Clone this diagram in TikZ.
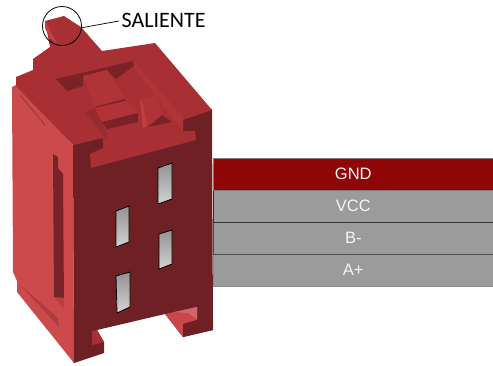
\documentclass[tikz,border=0pt]{standalone}
\usepackage{fontspec}
\setmainfont{Liberation Sans}
\newfontfamily\labelfont{Carlito}
\definecolor{topface}{HTML}{A83034}
\definecolor{topdark}{HTML}{7A2226}
\definecolor{topmid}{HTML}{B03337}
\definecolor{leftface}{HTML}{CC4A4C}
\definecolor{frontface}{HTML}{6E2024}
\definecolor{footlight}{HTML}{C9474A}
\definecolor{bandred}{HTML}{8F0606}
\definecolor{bandgray}{HTML}{9B9B9B}
\tikzset{
  band/.style={fill=bandgray,draw=#1,line width=0.6pt,minimum width=280pt,minimum height=31.5pt,inner sep=0pt,anchor=north west,text=white!92!gray,font=\fontsize{16.5pt}{18pt}\selectfont},
  hole/.style={draw=black,line width=0.8pt,bottom color=gray!35,top color=gray!85}
}
\begin{document}
\begin{tikzpicture}[x=1pt,y=-1pt]
\useasboundingbox (0,0) rectangle (493,365);
% bands
\node[band=black!45] (aplus) at (213,254) {A+};
\node[band=black!70] (bminus) at (213,222) {B-};
\node[band=black!80] (vcc) at (213,190) {VCC};
\node[band=bandgray!80!black,fill=bandred,minimum height=32pt] (gnd) at (213,158) {GND};
% left face
\fill[leftface] (12,87) -- (16,85) -- (73,145) -- (74,363) -- (17,292) -- (17,281) -- (13,272) -- cycle;
% front face
\fill[frontface] (73,143) -- (103,136) -- (212,109) -- (213,330) -- (183,337) -- (165,314) -- (97,330) -- (104,342) -- (104,353) -- (74,363) -- cycle;
% top face
\fill[topface] (16,77) -- (33,70) -- (33,59) -- (50,47) -- (45,21) -- (64,16) -- (81,27) -- (102,51) -- (155,43) -- (212,110) -- (183,120) -- (183,131) -- (195,131) -- (196,140) -- (91,168) -- (90,154) -- (103,148) -- (103,138) -- (73,145) -- (16,86) -- cycle;
% top details
\fill[topmid] (133,61) -- (183,117) -- (183,131) -- (133,66) -- cycle;
\fill[topdark] (56,79) -- (133,61) -- (134,66) -- (116,79) -- (107,70) -- (83,76) -- (83,86) -- (67,91) -- cycle;
\fill[topmid] (83,76) -- (107,70) -- (125,98) -- (95,107) -- cycle;
\fill[topdark] (95,107) -- (125,99) -- (126,101) -- (96,108) -- cycle;
\fill[topface!90!black] (85,112) -- (95,108) -- (107,134) -- (106,139) -- cycle;
\fill[topmid] (95,108) -- (125,101) -- (138,113) -- (102,122) -- cycle;
\fill[topdark] (102,122) -- (138,113) -- (138,122) -- (107,129) -- cycle;
\fill[topmid] (140,100) -- (156,95) -- (162,115) -- (146,127) -- (143,128) -- cycle;
\fill[leftface!60!topface] (140,100) -- (143,104) -- (147,126) -- (143,128) -- cycle;
\fill[topdark] (162,115) -- (172,122) -- (148,127) -- cycle;
\fill[leftface!70!topface] (45,21) -- (57,43) -- (50,38) -- (45,28) -- cycle;
\draw[topface!75!black,line width=0.4pt] (20,95) -- (45,125);
% left face slot
\fill[frontface!90!leftface] (53,154) -- (58,157) -- (58,168) -- (63,174) -- (64,304) -- (54,297) -- cycle;
\fill[footlight!80!frontface] (54,297) -- (64,298) -- (64,309) -- cycle;
\fill[footlight!70!frontface] (20,285) -- (58,318) -- (59,327) -- (50,317) -- cycle;
% feet
\fill[footlight] (165,314) -- (197,307) -- (197,320) -- (183,324) -- (183,337) -- cycle;
\fill[leftface!85!white] (175,312) -- (197,307) -- (197,319) -- (188,313) -- cycle;
\fill[topface] (92,331) -- (97,330) -- (104,342) -- (92,345) -- cycle;
\fill[frontface] (183,324) -- (197,320) -- (213,320) -- (213,330) -- (183,337) -- cycle;
% holes
\draw[hole] (116,211) -- (129,206) -- (129,242) -- (116,247) -- cycle;
\draw[hole] (116,276) -- (130,272) -- (130,307) -- (117,313) -- cycle;
\draw[hole] (159,234) -- (172,230) -- (172,264) -- (159,269) -- cycle;
\draw[hole] (158,168) -- (172,163) -- (172,199) -- (158,204) -- cycle;
% callout
\node[circle,draw=black,line width=0.8pt,minimum size=39pt,inner sep=0pt] (circ) at (62,26) {};
\node[anchor=west,inner sep=0pt,font=\labelfont\fontsize{22pt}{24pt}\selectfont] (sal) at (121.5,20.5) {SALIENTE};
\draw[black,line width=0.7pt,shorten >=2.5pt] (circ.-5) -- (sal.west);
\end{tikzpicture}
\end{document}
